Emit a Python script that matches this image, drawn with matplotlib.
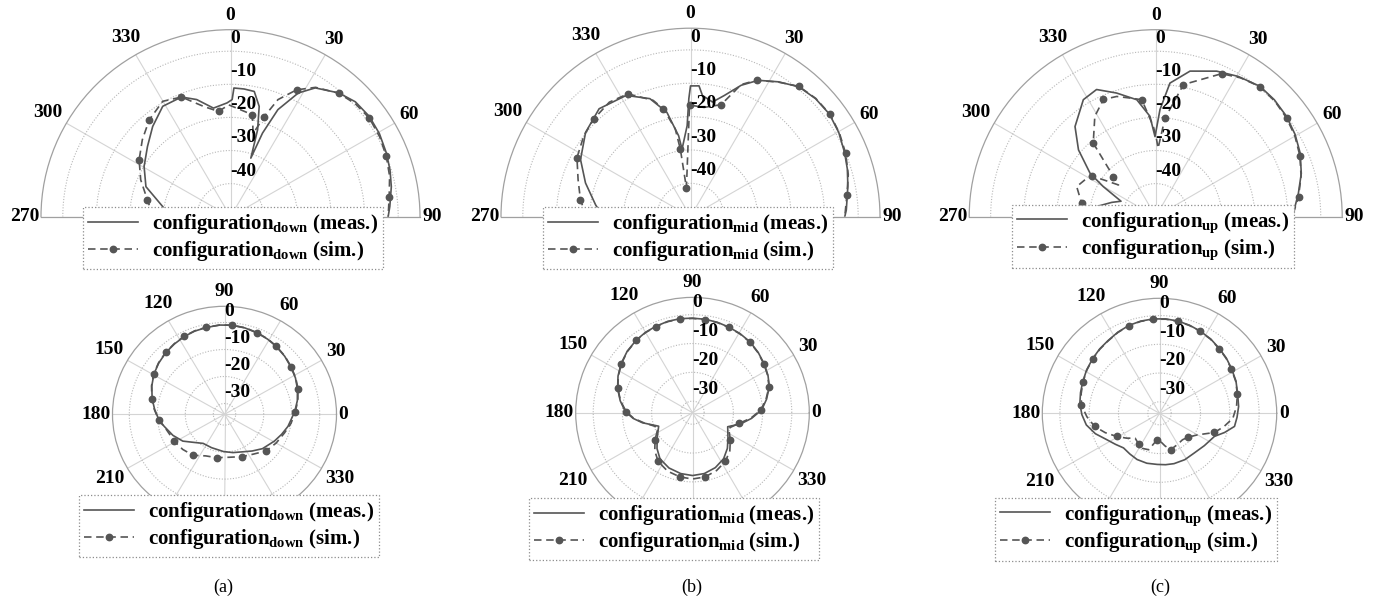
"""
Radiation patterns of the three configurations (down / mid / up).
Top row: half-plane cuts, bottom row: full-plane cuts, measured vs simulated.
"""

import numpy as np
import matplotlib
matplotlib.use("Agg")
import matplotlib.pyplot as plt
from matplotlib.lines import Line2D

plt.rcParams["font.family"] = "Liberation Serif"
plt.rcParams["font.weight"] = "bold"
plt.rcParams["mathtext.fontset"] = "custom"
plt.rcParams["mathtext.rm"] = "Liberation Serif:bold"
plt.rcParams["mathtext.bf"] = "Liberation Serif:bold"
plt.rcParams["mathtext.it"] = "Liberation Serif:bold:italic"

# ============================================================
# DATA  (angle in degrees, gain in dB)
# top row: angle measured from the top, clockwise (270..0..90)
# bottom row: angle measured from the right, counter-clockwise
# ============================================================

configs = ["down", "mid", "up"]
captions = ["(a)", "(b)", "(c)"]

top_a_meas_t = [-90, -81.5, -70.2, -59.5, -49.4, -40.4, -31.2, -22, -15.9, -8.8,
                -1.7, 0.8, 1.5, 6, 10.6, 14.4, 17.1, 18.9, 20.7, 23.6,
                28.4, 33, 40.8, 47, 53.8, 60.5, 67.5, 73.5, 79.3, 86.3, 90]
top_a_meas_r = [-32, -29.6, -23.2, -20.1, -17.4, -14.2, -11.0, -11.0, -13.2, -16.8,
                -15.6, -14.6, -11.1, -11.2, -11.5, -15.6, -22.5, -31.3, -23.0, -14.7,
                -7.5, -3.6, -0.6, 0.9, 1.3, 1.0, 0.3, -0.4, -1.2, -2.4, -3.0]
top_a_sim_t = [-90, -78.4, -67.4, -57.8, -48.5, -39.6, -30.1, -22, -13.6, -6.4,
               -0.9, 5, 12, 15, 18.4, 21.8, 27.2, 33, 40.8, 47.5,
               54.3, 61.5, 68.6, 75.5, 82.7, 90]
top_a_sim_r = [-27, -24.7, -21, -17.8, -14.9, -12.0, -9.7, -11.0, -15.7, -18.0,
               -16.2, -17.5, -18.5, -24, -18.1, -11.9, -6.9, -3.4, -0.7, 0.5,
               1.0, 0.6, -0.1, -1.0, -2.3, -3.0]
top_a_sim_marks = [-78.4, -57.8, -39.6, -22, -6.4, 12, 18.4, 27.2, 40.8, 54.3, 68.6, 82.7]

top_b_meas_t = [-90, -82.9, -72.1, -62.4, -51.1, -40.1, -27.8, -18.9, -12.7, -8.3,
                -7.1, -2.1, -0.8, 0, 3.7, 5.6, 10.8, 15.5, 21, 26.3,
                33, 39.7, 46.5, 53.4, 60.3, 67.3, 73, 79, 87.5, 90]
top_b_meas_r = [-24, -21.5, -17.1, -13.0, -9.8, -7.7, -8.9, -12.6, -17.9, -25.5,
                -29.6, -22.7, -14.6, -10.8, -10.7, -13.5, -15.0, -12.3, -7.8, -4.4,
                -1.8, 0.6, 1.4, 1.6, 0.9, -0.2, -1.1, -2.2, -3.5, -4.0]
top_b_sim_t = [-90, -81.2, -71.7, -62.4, -52.7, -44.5, -35.2, -26.9, -17.7, -14,
               -9.8, -8.5, -8, -0.5, 7, 15.2, 20.9, 25.7, 33, 39.6,
               46.5, 53.5, 60.5, 67.7, 75, 82, 90]
top_b_sim_r = [-19, -16.8, -14.7, -11.8, -10, -8.9, -8, -8.7, -13.4, -16.7,
               -23.3, -29.6, -41.3, -16.5, -17, -15.2, -7.6, -4.6, -1.9, 0.7,
               1.5, 1.7, 1.0, 0.0, -1.3, -2.9, -4.0]
top_b_sim_marks = [-81.2, -62.4, -44.5, -26.9, -14, -8.5, -8, -0.5, 15.2, 25.7,
                   39.6, 53.5, 67.7, 82]

top_c_meas_t = [-90, -80, -72, -66, -60.2, -56.6, -49.2, -41.9, -31.8, -25,
                -17.6, -9.2, -3.3, -0.5, 2.3, 6.1, 13.3, 22.8, 30.5, 38.7,
                45.5, 52.6, 59.5, 66.3, 73.5, 80.7, 88.6, 90]
top_c_meas_r = [-30, -32, -36, -38.5, -31.7, -26.2, -19.1, -13.4, -8.4, -7.6,
                -10.8, -14.2, -19.6, -25.8, -17.6, -9.4, -4.8, -2.3, -0.8, 0.5,
                0.4, -0.1, -1.0, -2.2, -4.0, -6.2, -8.3, -8.6]
top_c_sim_t = [-90, -79.8, -69.2, -61, -57.5, -49.6, -46.6, -42.7, -40.4, -31.3,
               -24.1, -18, -12.3, -6.8, -1.5, 0.7, 2, 5.4, 11.9, 24.8,
               31.5, 38.7, 46, 53.1, 60, 67.2, 74.5, 82, 90]
top_c_sim_r = [-25, -27.2, -24.4, -26.1, -27, -35.2, -32.4, -26.6, -20.8, -14.5,
               -11.2, -11.8, -13.3, -14.4, -22.7, -26.8, -29.3, -20.1, -9.2, -2.4,
               -0.8, 0.4, 0.2, -0.4, -1.3, -2.6, -4.3, -6.3, -8.6]
top_c_sim_marks = [-79.8, -57.5, -46.6, -40.4, -24.1, -6.8, 5.4, 11.9, 24.8, 38.7,
                   53.1, 67.2, 82]

bot_a_meas_t = [2.2, 11, 19.9, 28, 36.6, 45, 53.8, 61, 68.7, 77,
                85.4, 93, 101.3, 109, 116.4, 124.5, 132.6, 141, 149.4, 158,
                167.3, 176, 185, 191.7, 203, 213.7, 221, 234.7, 249.5, 268.5,
                282, 296.6, 306, 316.8, 330.9, 340, 348.8, 362.2]
bot_a_meas_r = [-8.9, -7.5, -6.3, -5.3, -4.5, -3.6, -2.8, -2.2, -1.7, -1.2,
                -0.9, -0.9, -1.2, -1.4, -1.8, -2.4, -3.0, -3.8, -4.7, -6.0,
                -7.5, -9.0, -10.5, -12.0, -14.0, -16.1, -18.3, -20.8, -20.8, -20.2,
                -19.5, -18.5, -17.2, -15.4, -13.6, -12.3, -10.9, -8.9]
bot_a_sim_t = [2.2, 11, 19.9, 28, 36.6, 45, 53.8, 61, 68.7, 77,
               85.4, 93, 101.3, 109, 116.4, 124.5, 132.6, 141, 149.4, 158,
               167.3, 176, 185, 195.4, 209, 221, 233.4, 246.5, 260.1, 276,
               291.9, 305, 317.5, 330, 342.1, 352, 362.2]
bot_a_sim_r = [-8.7, -7.3, -6.1, -5.2, -4.4, -3.5, -2.7, -2.1, -1.6, -1.1,
               -0.9, -0.9, -1.1, -1.3, -1.7, -2.3, -2.9, -3.7, -4.6, -5.9,
               -7.4, -8.9, -10.4, -12.5, -13.5, -14.2, -15.1, -17.2, -17.7, -18.0,
               -17.1, -16.0, -13.9, -12.7, -11.5, -10.0, -8.7]
bot_a_sim_marks = [2.2, 19.9, 36.6, 53.8, 68.7, 85.4, 101.3, 116.4, 132.6, 149.4,
                   167.3, 185, 209, 233.4, 260.1, 291.9, 317.5]

bot_b_meas_t = [2.3, 10.5, 18.9, 26.5, 34.4, 42.8, 51.2, 59.3, 67.3, 74.8,
                82.3, 90, 97.4, 105, 112.7, 120, 127.5, 136.3, 145.1, 153.5,
                161.8, 170.5, 179.1, 185.6, 191.5, 202, 216.2, 225.7, 235.2, 247.2,
                259.2, 270, 280.8, 292.3, 303.7, 314, 324.1, 338, 346.9, 354.4,
                362.3]
bot_b_meas_r = [-10.3, -8.2, -6.2, -5.1, -4.2, -3.3, -2.5, -2.1, -1.8, -1.5,
                -1.3, -1.2, -1.1, -1.2, -1.5, -1.8, -2.3, -3.1, -4.2, -5.5,
                -7.0, -8.9, -11.0, -13.6, -16.5, -21.5, -19.0, -16.6, -14.5, -13.2,
                -12.5, -12.2, -12.5, -13.4, -14.8, -16.8, -19.0, -21.0, -17.0, -13.7,
                -10.3]
bot_b_sim_t = [2.3, 10.5, 18.9, 26.5, 34.4, 42.8, 51.2, 59.3, 67.3, 74.8,
               82.3, 90, 97.4, 105, 112.7, 120, 127.5, 136.3, 145.1, 153.5,
               161.8, 170.5, 179.1, 185.6, 191.5, 203.4, 216.2, 225.7, 235.2, 247.2,
               259.2, 270, 280.8, 292.3, 303.7, 314, 324.1, 336.5, 346.9, 354.4,
               362.3]
bot_b_sim_r = [-10.6, -8.4, -6.3, -5.2, -4.3, -3.4, -2.6, -2.2, -1.9, -1.6,
               -1.4, -1.3, -1.2, -1.3, -1.6, -1.9, -2.4, -3.2, -4.3, -5.6,
               -7.1, -9.0, -11.3, -13.8, -16.8, -21.2, -18.1, -15.5, -13.4, -12.0,
               -11.3, -11.0, -11.3, -12.3, -13.7, -15.6, -18.0, -20.5, -17.7, -14.0,
               -10.6]
bot_b_sim_marks = [2.3, 18.9, 34.4, 51.2, 67.3, 82.3, 97.4, 112.7, 127.5, 145.1,
                   161.8, 179.1, 216.2, 235.2, 259.2, 280.8, 303.7, 324.1, 346.9]

bot_c_meas_t = [14.1, 23.2, 32.4, 40, 47.6, 55.9, 64.2, 71.5, 78.8, 86.3,
                93.8, 101.3, 108.8, 116.7, 124.7, 132.4, 140.1, 148.7, 157.3, 165,
                172.8, 181, 189.2, 198, 207, 215.7, 224.4, 234.5, 244.5, 256,
                267.5, 276.6, 285.8, 298.2, 310.6, 323.7, 336.8, 343.3, 349.9, 357,
                365, 374.1]
bot_c_meas_r = [-6.5, -5.6, -4.9, -4.2, -3.6, -2.8, -2.2, -1.7, -1.3, -1.1,
                -1.1, -1.3, -1.7, -2.4, -3.2, -3.7, -4.3, -4.9, -5.6, -6.1,
                -6.6, -7.5, -8.7, -11.0, -13.8, -15.5, -16.8, -16.6, -16.2, -16.1,
                -16.2, -16.0, -15.8, -15.7, -15.8, -15.0, -13.6, -10.8, -8.0, -7.5,
                -6.9, -6.5]
bot_c_sim_t = [14.1, 23.2, 32.4, 40, 47.6, 55.9, 64.2, 71.5, 78.8, 86.3,
               93.8, 101.3, 108.8, 116.7, 124.7, 132.4, 140.1, 148.7, 157.3, 165.6,
               173.9, 182.8, 191.7, 200, 208.8, 217.5, 226.2, 236, 245, 253.8,
               265, 272, 279.4, 286.7, 298.5, 310.4, 319.7, 330, 340.4, 348.2,
               356.1, 365.1, 374.1]
bot_c_sim_r = [-6.6, -5.7, -5.0, -4.3, -3.7, -2.9, -2.3, -1.8, -1.4, -1.2,
               -1.2, -1.4, -1.8, -2.5, -3.3, -3.8, -4.4, -5.0, -5.7, -6.4,
               -7.2, -9.2, -11.4, -14.3, -17.3, -19.8, -22.0, -21.2, -20.5, -20.8,
               -24.8, -24.2, -22.5, -20.8, -21.5, -21.9, -21.2, -19.0, -14.1, -11.5,
               -8.9, -7.6, -6.6]
bot_c_sim_marks = [14.1, 32.4, 47.6, 64.2, 78.8, 93.8, 108.8, 140.1, 157.3, 173.9,
                   191.7, 208.8, 236, 265, 286.7, 319.7, 340.4]

top_angles = [-90, -60, -30, 0, 30, 60, 90]
top_angle_labels = ["270", "300", "330", "0", "30", "60", "90"]
top_rticks = [-40, -30, -20, -10, 0]
bot_angles = list(range(0, 360, 30))
# 240, 270 and 300 sit under the legend box in the original
bot_label_angles = [0, 30, 60, 90, 120, 150, 180, 210, 330]
bot_angle_labels = [str(a) for a in bot_label_angles]
bot_rticks = [-30, -20, -10, 0]

# ============================================================
# PLOT SETTINGS
# ============================================================

W, H = 1377, 599
TOP_RLIM = (-50, 6.5)
BOT_RLIM = (-34, 6)

LINE_C = "#555555"
LW = 1.2
DASH = (0, (4.5, 2.8))
MS = 4.6
TICK_FS = 14
LEG_FS = 15

# circle centre / radii in pixels (x, y from top-left, rx, ry)
top_geo = [(230.5, 216.7, 189.5, 187.0),
           (690.5, 216.7, 189.5, 188.5),
           (1155.7, 216.7, 186.5, 187.0)]
bot_geo = [(224.5, 414.3, 112.0, 108.0),
           (692.5, 412.7, 116.8, 115.3),
           (1159.5, 413.3, 117.2, 115.0)]

top_leg_xy = [(83, 207), (543, 207), (1012, 205)]
bot_leg_xy = [(79, 495), (529, 498), (995, 498)]
caption_xy = [(223, 587), (692, 587), (1160, 587)]

top_data = [(top_a_meas_t, top_a_meas_r, top_a_sim_t, top_a_sim_r, top_a_sim_marks),
            (top_b_meas_t, top_b_meas_r, top_b_sim_t, top_b_sim_r, top_b_sim_marks),
            (top_c_meas_t, top_c_meas_r, top_c_sim_t, top_c_sim_r, top_c_sim_marks)]
bot_data = [(bot_a_meas_t, bot_a_meas_r, bot_a_sim_t, bot_a_sim_r, bot_a_sim_marks),
            (bot_b_meas_t, bot_b_meas_r, bot_b_sim_t, bot_b_sim_r, bot_b_sim_marks),
            (bot_c_meas_t, bot_c_meas_r, bot_c_sim_t, bot_c_sim_r, bot_c_sim_marks)]

fig = plt.figure(figsize=(W / 100, H / 100), dpi=100)


def style_axes(ax, angles, rticks):
    ax.set_thetagrids(angles, labels=[""] * len(angles))
    ax.set_rgrids(rticks, labels=[""] * len(rticks))
    ax.xaxis.grid(True, color="#d4d4d4", linewidth=0.8, linestyle="-")
    ax.yaxis.grid(True, color="#b8b8b8", linewidth=0.8, linestyle=(0, (1, 1.5)))
    ax.tick_params(length=0)
    for sp in ax.spines.values():
        sp.set_color("#a0a0a0")
        sp.set_linewidth(0.9)


def angle_labels(ax, angles, labels, rmax, top):
    for ang, lab in zip(angles, labels):
        a = np.deg2rad(90 - ang) if top else np.deg2rad(ang)
        half_w = 0.25 * TICK_FS * len(lab)
        d = 1.5 + half_w * abs(np.cos(a)) + 9.0 * abs(np.sin(a))
        ax.annotate(lab, xy=(np.deg2rad(ang), rmax),
                    xytext=(d * np.cos(a), d * np.sin(a)),
                    textcoords="offset points", ha="center", va="center",
                    fontsize=TICK_FS, fontweight="bold", annotation_clip=False)


def ring_labels(ax, rticks, theta, offset):
    for r in rticks:
        ax.text(theta, r + offset, f"{r:d}", ha="left", va="center",
                fontsize=TICK_FS, fontweight="bold")


def add_curves(ax, mt, mr, st, sr, marks):
    every = [st.index(m) for m in marks]
    ax.plot(np.deg2rad(mt), mr, color=LINE_C, lw=LW, zorder=3)
    ax.plot(np.deg2rad(st), sr, color=LINE_C, lw=LW, ls=DASH,
            marker="o", ms=MS, markevery=every, zorder=3)


def add_legend(ax, sub, xy):
    h_meas = Line2D([], [], color=LINE_C, lw=LW)
    h_sim = Line2D([], [], color=LINE_C, lw=LW, ls=DASH, marker="o", ms=MS)
    labels = [rf"configuration$_{{\rm {sub}}}$ (meas.)",
              rf"configuration$_{{\rm {sub}}}$ (sim.)"]
    leg = ax.legend([h_meas, h_sim], labels, loc="upper left",
                    bbox_to_anchor=(xy[0] / W, 1 - xy[1] / H),
                    bbox_transform=fig.transFigure, borderaxespad=0,
                    fancybox=False, framealpha=1, edgecolor="#8c8c8c",
                    prop={"size": LEG_FS, "weight": "bold"},
                    handlelength=2.4, handletextpad=0.65,
                    borderpad=0.25, labelspacing=0.15, numpoints=1)
    leg.get_frame().set_linestyle(":")
    leg.get_frame().set_linewidth(0.9)
    leg.set_zorder(10)


# ============================================================
# CREATE PLOT
# ============================================================

for i in range(3):
    # ---- top row: half plane ----
    cx, cy, rx, ry = top_geo[i]
    rect = [(cx - rx) / W, (H - (cy + 0.5 * ry)) / H, 2 * rx / W, 2 * ry / H]
    ax = fig.add_axes(rect, projection="polar")
    ax.set_theta_zero_location("N")
    ax.set_theta_direction(-1)
    ax.set_thetamin(-90)
    ax.set_thetamax(90)
    ax.set_ylim(*TOP_RLIM)
    ax.set_aspect("auto")
    style_axes(ax, top_angles, top_rticks)
    add_curves(ax, *top_data[i])
    ring_labels(ax, top_rticks, 0.0, 3.8)
    angle_labels(ax, top_angles, top_angle_labels, TOP_RLIM[1], True)
    add_legend(ax, configs[i], top_leg_xy[i])

    # ---- bottom row: full plane ----
    cx, cy, rx, ry = bot_geo[i]
    rect = [(cx - rx) / W, (H - (cy + ry)) / H, 2 * rx / W, 2 * ry / H]
    ax = fig.add_axes(rect, projection="polar")
    ax.set_ylim(*BOT_RLIM)
    ax.set_aspect("auto")
    style_axes(ax, bot_angles, bot_rticks)
    add_curves(ax, *bot_data[i])
    ring_labels(ax, bot_rticks, np.pi / 2, 4.2)
    angle_labels(ax, bot_label_angles, bot_angle_labels, BOT_RLIM[1], False)
    add_legend(ax, configs[i], bot_leg_xy[i])

    fig.text(caption_xy[i][0] / W, 1 - caption_xy[i][1] / H, captions[i],
             ha="center", va="center", fontsize=13, fontweight="normal")

fig.savefig("out.png", dpi=100)
